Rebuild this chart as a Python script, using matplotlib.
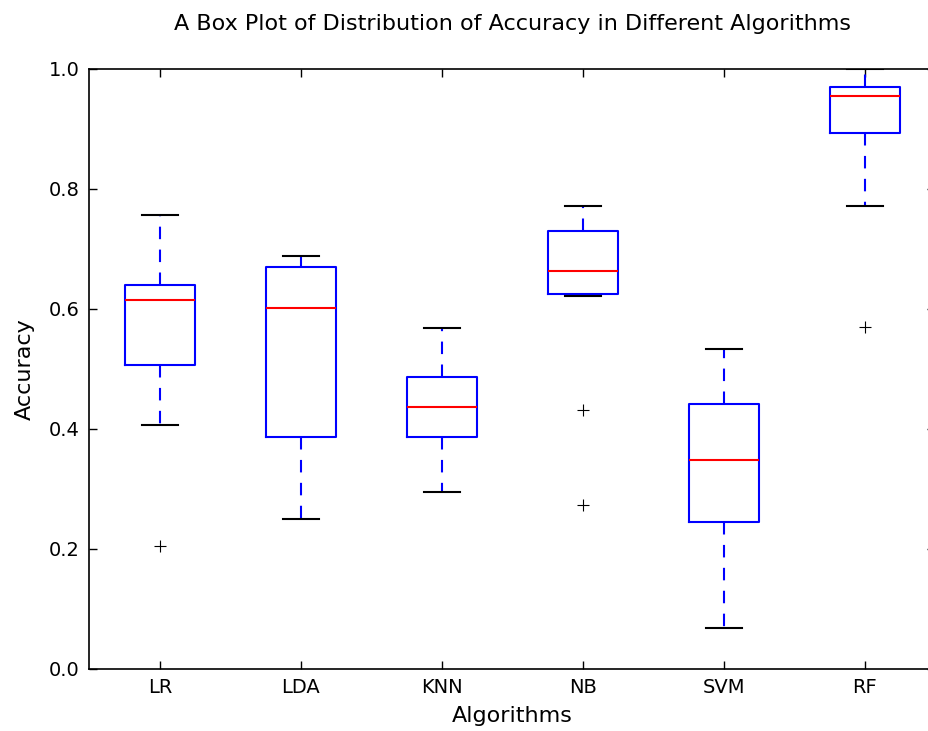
import matplotlib
matplotlib.use("Agg")
import matplotlib.pyplot as plt

algorithms = ["LR", "LDA", "KNN", "NB", "SVM", "RF"]
medians = [0.614, 0.601, 0.437, 0.663, 0.347, 0.955]
q1 = [0.506, 0.386, 0.386, 0.624, 0.244, 0.893]
q3 = [0.639, 0.669, 0.487, 0.730, 0.442, 0.970]
whisker_low = [0.407, 0.249, 0.295, 0.622, 0.068, 0.771]
whisker_high = [0.756, 0.688, 0.568, 0.771, 0.533, 1.000]
fliers = [[0.204], [], [], [0.431, 0.272], [], [0.569]]

stats = []
for i, name in enumerate(algorithms):
    stats.append(dict(label=name, med=medians[i], q1=q1[i], q3=q3[i],
                      whislo=whisker_low[i], whishi=whisker_high[i],
                      fliers=fliers[i]))

fig = plt.figure(figsize=(9.29, 7.31), dpi=100)
fig.patch.set_facecolor("white")
ax = fig.add_axes([89.5 / 929, 62.5 / 731, 846 / 929, 599.5 / 731])

ax.bxp(stats, positions=range(1, 7), widths=0.5,
       boxprops=dict(color="blue", linewidth=1.5),
       medianprops=dict(color="red", linewidth=1.5),
       whiskerprops=dict(color="blue", linestyle=(0, (6, 5)), linewidth=1.5),
       capprops=dict(color="black", linewidth=1.5),
       flierprops=dict(marker="+", markeredgecolor="black", markersize=9,
                       linestyle="none", markeredgewidth=0.8))

ax.set_xlim(0.5, 6.5)
ax.set_ylim(0.0, 1.0)
ax.set_yticks([0.0, 0.2, 0.4, 0.6, 0.8, 1.0])
ax.set_xticks(range(1, 7))
ax.set_xticklabels(algorithms)
ax.tick_params(direction="in", top=True, right=True, length=6, width=1,
               labelsize=14, pad=7)
for s in ax.spines.values():
    s.set_linewidth(1.2)

ax.set_xlabel("Algorithms", fontsize=16, labelpad=6)
ax.set_ylabel("Accuracy", fontsize=16, labelpad=10)
ax.set_title("A Box Plot of Distribution of Accuracy in Different Algorithms",
             fontsize=16, pad=28)

fig.savefig("out.png", dpi=100, facecolor="white")
